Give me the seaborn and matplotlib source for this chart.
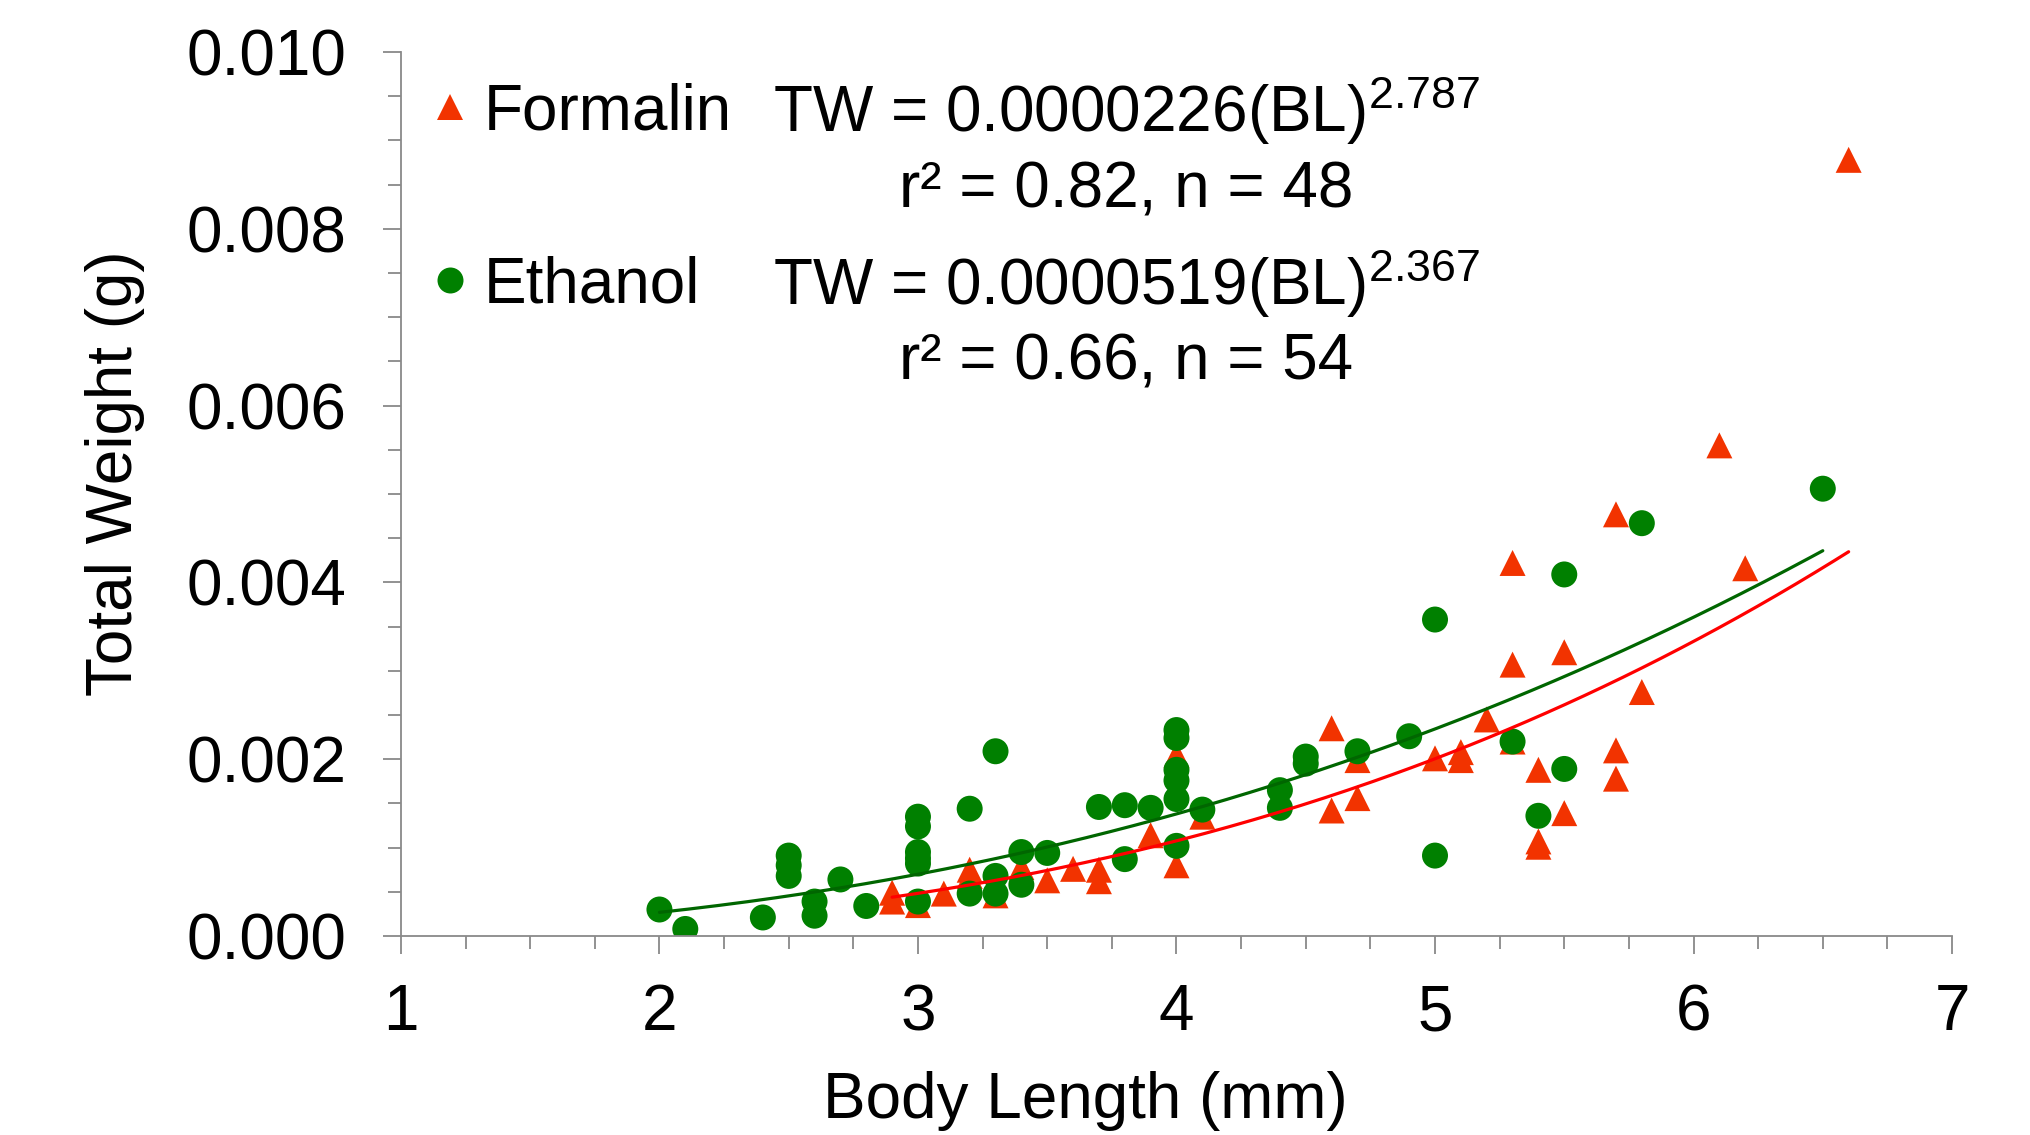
# length-weight relationship, formalin vs ethanol preserved specimens

import numpy as np
import pandas as pd
import matplotlib
matplotlib.use("Agg")
import matplotlib.pyplot as plt
from matplotlib.ticker import MultipleLocator, FormatStrFormatter
import seaborn as sns

# =========================
# DATA
# =========================

formalin_bl = [2.9, 2.9, 3.0, 3.1, 3.2, 3.2, 3.3, 3.4, 3.5, 3.6, 3.7, 3.7,
               3.9, 4.0, 4.0, 4.1, 4.6, 4.6, 4.7, 4.7, 5.0, 5.1, 5.1, 5.2,
               5.3, 5.3, 5.3, 5.4, 5.4, 5.4, 5.5, 5.5, 5.7, 5.7, 5.7, 5.8,
               6.1, 6.2, 6.6]
formalin_tw = [0.00049, 0.00039, 0.00035, 0.00048, 0.00075, 0.00068, 0.00046,
               0.00078, 0.00063, 0.00076, 0.00075, 0.00062, 0.00114, 0.00205,
               0.00080, 0.00135, 0.00235, 0.00142, 0.00199, 0.00156, 0.00201,
               0.00208, 0.00199, 0.00245, 0.00422, 0.00307, 0.00220, 0.00188,
               0.00107, 0.00101, 0.00321, 0.00139, 0.00477, 0.00210, 0.00178,
               0.00276, 0.00555, 0.00416, 0.00878]

ethanol_bl = [2.0, 2.1, 2.4, 2.5, 2.5, 2.5, 2.6, 2.6, 2.7, 2.8, 3.0, 3.0,
              3.0, 3.0, 3.0, 3.0, 3.2, 3.2, 3.3, 3.3, 3.3, 3.4, 3.4, 3.5,
              3.7, 3.8, 3.8, 3.9, 4.0, 4.0, 4.0, 4.0, 4.0, 4.0, 4.1, 4.4,
              4.4, 4.5, 4.5, 4.7, 4.9, 5.0, 5.0, 5.3, 5.4, 5.5, 5.5, 5.8,
              6.5]
ethanol_tw = [0.00030, 0.00008, 0.00021, 0.00091, 0.00080, 0.00068, 0.00039,
              0.00023, 0.00064, 0.00034, 0.00135, 0.00124, 0.00095, 0.00088,
              0.00082, 0.00039, 0.00144, 0.00048, 0.00209, 0.00068, 0.00048,
              0.00095, 0.00058, 0.00094, 0.00146, 0.00148, 0.00087, 0.00145,
              0.00233, 0.00224, 0.00188, 0.00176, 0.00155, 0.00102, 0.00143,
              0.00165, 0.00145, 0.00203, 0.00195, 0.00209, 0.00226, 0.00358,
              0.00091, 0.00220, 0.00136, 0.00409, 0.00189, 0.00467, 0.00506]

# power fits printed on the chart: TW = a * BL^b
formalin_a, formalin_b = 0.0000226, 2.787
ethanol_a, ethanol_b = 0.0000519, 2.367

formalin_label = "TW = 0.0000226(BL)$^{2.787}$"
formalin_stats = "r² = 0.82, n = 48"
ethanol_label = "TW = 0.0000519(BL)$^{2.367}$"
ethanol_stats = "r² = 0.66, n = 54"

# =========================
# STYLE
# =========================

sns.set_style("ticks")
plt.rcParams["font.family"] = ["Liberation Sans", "DejaVu Sans"]
plt.rcParams["mathtext.default"] = "regular"
plt.rcParams["text.color"] = "black"
plt.rcParams["axes.labelcolor"] = "black"

FS = 46
AXIS_GREY = "#898989"
TRI_RED = "#F23300"
DOT_GREEN = "#008000"

df = pd.concat([
    pd.DataFrame({"BL": formalin_bl, "TW": formalin_tw, "Preservative": "Formalin"}),
    pd.DataFrame({"BL": ethanol_bl, "TW": ethanol_tw, "Preservative": "Ethanol"}),
], ignore_index=True)

fig, ax = plt.subplots(figsize=(20.3, 11.35), dpi=100)
fig.subplots_adjust(left=0.1975, right=0.9616, bottom=0.1753, top=0.9542)

sns.scatterplot(data=df, x="BL", y="TW", hue="Preservative", style="Preservative",
                palette={"Formalin": TRI_RED, "Ethanol": DOT_GREEN},
                markers={"Formalin": "^", "Ethanol": "o"},
                s=350, linewidth=0, ax=ax)

# =========================
# TREND LINES
# =========================

fx = np.linspace(min(formalin_bl), max(formalin_bl), 200)
ex = np.linspace(min(ethanol_bl), max(ethanol_bl), 200)
sns.lineplot(x=fx, y=formalin_a * fx ** formalin_b, color="#FF0000", lw=2.3,
             legend=False, ax=ax)
sns.lineplot(x=ex, y=ethanol_a * ex ** ethanol_b, color="#006600", lw=2.3,
             legend=False, ax=ax)

# =========================
# AXES
# =========================

ax.set_xlim(1, 7)
ax.set_ylim(0, 0.010)
ax.xaxis.set_major_locator(MultipleLocator(1))
ax.xaxis.set_minor_locator(MultipleLocator(0.25))
ax.yaxis.set_major_locator(MultipleLocator(0.002))
ax.yaxis.set_minor_locator(MultipleLocator(0.0005))
ax.yaxis.set_major_formatter(FormatStrFormatter("%.3f"))

sns.despine(ax=ax)
for side in ["left", "bottom"]:
    ax.spines[side].set_color(AXIS_GREY)
    ax.spines[side].set_linewidth(1.3)

ax.tick_params(which="major", length=13, width=1.3, color=AXIS_GREY,
               labelsize=FS, labelcolor="black")
ax.tick_params(axis="y", which="major", pad=26)
ax.tick_params(axis="x", which="major", pad=21)
ax.tick_params(which="minor", length=9.5, width=1.3, color=AXIS_GREY)

ax.set_xlabel("Body Length (mm)", fontsize=FS, labelpad=20)
ax.set_ylabel("Total Weight (g)", fontsize=FS, labelpad=30)
ax.xaxis.label.set_x(0.441)
ax.yaxis.label.set_y(0.524)

# =========================
# LEGEND AND EQUATIONS
# =========================

sns.move_legend(ax, loc="center left", bbox_to_anchor=(0.2123, 0.8245),
                bbox_transform=fig.transFigure, frameon=False, title=None,
                fontsize=FS, handlelength=0.6, handletextpad=0.22,
                labelspacing=1.77, borderpad=0, borderaxespad=0)

eq_x = 0.5547
fig.text(eq_x, 0.8837, formalin_label, fontsize=FS, ha="center", va="baseline")
fig.text(eq_x, 0.8176, formalin_stats, fontsize=FS, ha="center", va="baseline")
fig.text(eq_x, 0.7313, ethanol_label, fontsize=FS, ha="center", va="baseline")
fig.text(eq_x, 0.6652, ethanol_stats, fontsize=FS, ha="center", va="baseline")

plt.savefig("out.png", dpi=100)
